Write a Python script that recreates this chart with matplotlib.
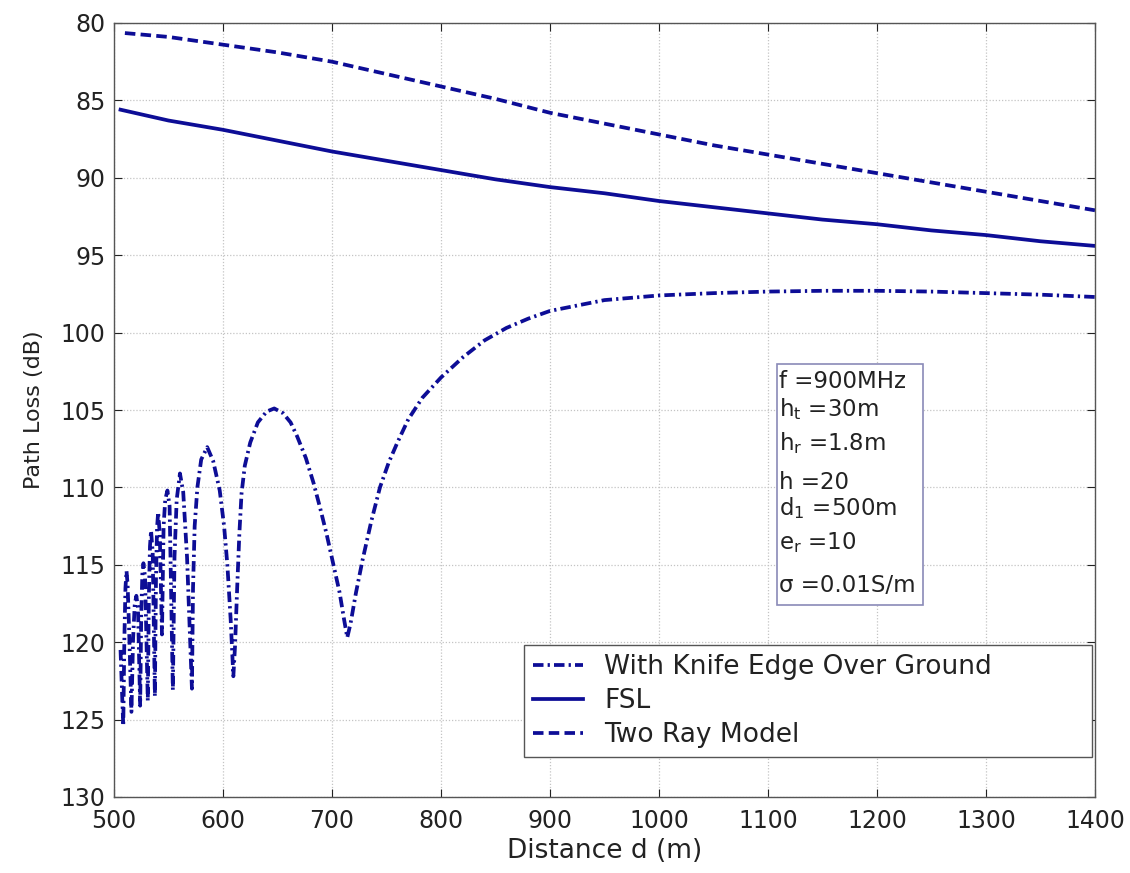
import matplotlib
matplotlib.use("Agg")
import matplotlib.pyplot as plt

# ---------------- data ----------------
knife_d = [506, 507.5, 508.5, 509.5, 510.5, 511.5, 512.5, 514, 516, 517.5, 519, 520.5,
           522, 524, 525, 526, 527, 528.5, 531, 532, 533, 534, 535.5, 537.5, 538.5,
           539.5, 540.5, 542, 544, 545.5, 547, 549, 551, 554, 555.5, 557.5, 560.5,
           563.5, 567, 571.5, 572.5, 574, 576.5, 580, 585.5, 591, 597, 601, 604, 607,
           609.5, 611, 613, 615, 617, 620, 625, 632, 640, 647, 655, 662, 668, 676, 683,
           689, 695, 701, 707, 711, 714, 717, 722, 728, 736, 744, 752, 760, 770, 783,
           800, 820, 840, 860, 880, 900, 950, 1000, 1050, 1100, 1150, 1200, 1250, 1300,
           1350, 1400]
knife_pl = [120.5, 123.5, 125.4, 119.8, 116.5, 115.4, 116.3, 119.5, 124.5, 119.8, 117.6, 117.0,
            117.8, 124.1, 118.2, 115.6, 114.9, 115.8, 123.8, 117.0, 113.8, 112.8, 114.2, 123.5, 116.0,
            112.6, 111.6, 113.0, 119.5, 112.5, 110.8, 110.2, 111.2, 123.1, 114.5, 110.8, 109.1,
            110.3, 114.5, 123.0, 116.5, 112.5, 110.0, 108.2, 107.4, 108.3, 110.2, 112.5, 115.0, 118.5,
            122.2, 120.3, 116.5, 113.0, 110.4, 108.6, 107.1, 105.8, 105.1, 104.9, 105.2, 105.8, 106.7,
            108.1, 109.7, 111.3, 113.0, 114.9, 116.8, 118.5, 119.7, 118.8, 116.8, 114.7, 112.2, 110.0,
            108.4, 107.1, 105.6, 104.2, 102.9, 101.6, 100.5, 99.7, 99.1, 98.6, 97.9, 97.6, 97.45,
            97.35, 97.3, 97.3, 97.35, 97.45, 97.55, 97.7]

fsl_d = [506, 550, 600, 650, 700, 750, 800, 850, 900, 950, 1000, 1050, 1100, 1150, 1200,
         1250, 1300, 1350, 1400]
fsl_pl = [85.6, 86.3, 86.9, 87.6, 88.3, 88.9, 89.5, 90.1, 90.6, 91.0, 91.5, 91.9, 92.3, 92.7,
          93.0, 93.4, 93.7, 94.1, 94.4]

tworay_d = [510, 550, 600, 650, 700, 750, 800, 850, 900, 950, 1000, 1050, 1100, 1150, 1200,
            1250, 1300, 1350, 1400]
tworay_pl = [80.65, 80.9, 81.4, 81.9, 82.5, 83.3, 84.1, 84.9, 85.8, 86.5, 87.2, 87.9, 88.5,
             89.1, 89.7, 90.3, 90.9, 91.5, 92.1]

labels = ["With Knife Edge Over Ground", "FSL", "Two Ray Model"]
x_ticks = [500, 600, 700, 800, 900, 1000, 1100, 1200, 1300, 1400]
y_ticks = [80, 85, 90, 95, 100, 105, 110, 115, 120, 125, 130]
param_lines = ["f =900MHz", r"h$_\mathregular{t}$ =30m", r"h$_\mathregular{r}$ =1.8m", "h =20",
               r"d$_\mathregular{1}$ =500m", r"e$_\mathregular{r}$ =10", "σ =0.01S/m"]

# ---------------- figure ----------------
plt.rcParams['font.family'] = ['DejaVu Sans']
plt.rcParams['mathtext.fontset'] = 'dejavusans'

W, H = 1130, 873
fig = plt.figure(figsize=(W / 100, H / 100), dpi=100)
ax = fig.add_axes([114 / W, 1 - 797 / H, (1095 - 114) / W, (797 - 23) / H])

col = '#0d0d96'
lw = 2.7
ax.plot(knife_d, knife_pl, color=col, lw=lw, linestyle=(0, (2.8, 1.1, 0.6, 1.1)), label=labels[0])
ax.plot(fsl_d, fsl_pl, color=col, lw=lw, linestyle='-', label=labels[1])
ax.plot(tworay_d, tworay_pl, color=col, lw=lw, linestyle=(0, (2.8, 1.4)), label=labels[2])

ax.set_xlim(500, 1400)
ax.set_ylim(130, 80)
ax.set_xticks(x_ticks)
ax.set_yticks(y_ticks)
ax.tick_params(direction='in', top=True, right=True, length=6, width=0.8,
               labelsize=17, colors='#222222')
ax.tick_params(axis='x', pad=9)
ax.tick_params(axis='y', pad=6)
ax.grid(True, color='#c4c4c4', linestyle=(0, (1, 1.5)), linewidth=0.9)
for s in ax.spines.values():
    s.set_color('#555555')
    s.set_linewidth(1.0)

ax.set_xlabel("Distance d (m)", fontsize=19, labelpad=3, color='#222222')
ax.set_ylabel("Path Loss (dB)", fontsize=16, labelpad=12, color='#222222')

x0 = (524 - 114) / 981
wl = (1092 - 524) / 981
ytop = (797 - 645) / 774
leg = ax.legend(loc='upper left', bbox_to_anchor=(x0, ytop - 0.2, wl, 0.2), mode='expand',
                borderaxespad=0, fontsize=19,
                handlelength=1.9, handletextpad=0.8, borderpad=0.35, labelspacing=0.3,
                fancybox=False, framealpha=1, edgecolor='#555555')
leg.get_frame().set_linewidth(1.0)
for t in leg.get_texts():
    t.set_color('#222222')

# parameter box
box_l, box_t, box_r, box_b = 777, 364, 923, 605
fig.patches.append(plt.Rectangle((box_l / W, 1 - box_b / H), (box_r - box_l) / W,
                                 (box_b - box_t) / H, transform=fig.transFigure,
                                 fill=True, facecolor='white', edgecolor='#8a8ab8', lw=1.2,
                                 zorder=5))
ys = [382, 409, 443, 482, 508, 543, 585]
for txt, yy in zip(param_lines, ys):
    fig.text(779 / W, 1 - yy / H, txt, fontsize=16.5, va='center', ha='left',
             color='#222222', zorder=6)

fig.savefig("out.png", dpi=100)
